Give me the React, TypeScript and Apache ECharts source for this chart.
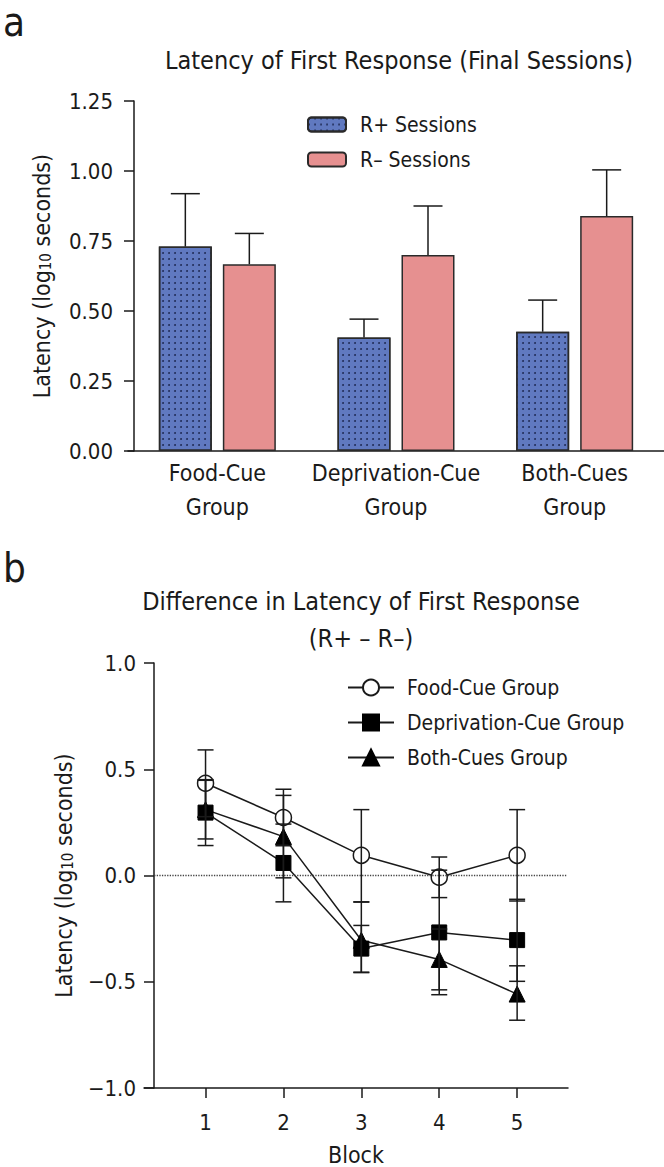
import React, { useEffect, useRef } from 'react';
import * as echarts from 'echarts';

const FONT = "'Liberation Sans Narrow', 'DejaVu Sans Condensed', 'Arial Narrow', sans-serif";
const INK = '#1a1a1a';

// ---- Panel a data ----
const groups = ['Food-Cue\nGroup', 'Deprivation-Cue\nGroup', 'Both-Cues\nGroup'];
const rPlusSessions = [0.730, 0.405, 0.426];
const rPlusErrTop = [0.919, 0.471, 0.539];
const rMinusSessions = [0.667, 0.700, 0.839];
const rMinusErrTop = [0.777, 0.875, 1.004];

// ---- Panel b data ----
const blocks = [1, 2, 3, 4, 5];
const foodCue = [0.434, 0.273, 0.095, -0.008, 0.095];
const foodLow = [0.277, 0.140, -0.124, -0.104, -0.120];
const foodHigh = [0.591, 0.406, 0.310, 0.087, 0.310];
const depCue = [0.296, 0.059, -0.344, -0.268, -0.304];
const depLow = [0.141, -0.124, -0.457, -0.561, -0.498];
const depHigh = [0.451, 0.242, -0.235, 0.025, -0.112];
const bothCues = [0.310, 0.183, -0.305, -0.395, -0.558];
const bothLow = [0.172, -0.011, -0.455, -0.538, -0.681];
const bothHigh = [0.448, 0.377, -0.125, -0.252, -0.425];

const BAR_W = 53;
const BAR_GAP = 11;
const CAP_A = 29;
const CAP_B = 16;

const fmtSigned = (v: number) => (v < 0 ? '\u2212' + Math.abs(v).toFixed(1) : v.toFixed(1));

export default function App() {
  const ref = useRef<HTMLDivElement>(null);
  useEffect(() => {
    const chart = echarts.init(ref.current!, null, { renderer: 'svg' });
    const offset = (BAR_W + BAR_GAP) / 2;

    const barErr = (vals: number[], tops: number[], side: number) =>
      vals.map((v, i) => [i, v, tops[i], side]);

    const errSeries = (name: string, low: number[], high: number[]) => ({
      type: 'custom',
      name,
      xAxisIndex: 1,
      yAxisIndex: 1,
      z: 5,
      silent: true,
      encode: { x: 0, y: [1, 2] },
      data: blocks.map((b, i) => [b, low[i], high[i]]),
      renderItem: (_p: any, api: any) => {
        const lo = api.coord([api.value(0), api.value(1)]);
        const hi = api.coord([api.value(0), api.value(2)]);
        const st = { stroke: INK, lineWidth: 1.5 };
        return {
          type: 'group',
          children: [
            { type: 'line', shape: { x1: lo[0], y1: lo[1], x2: hi[0], y2: hi[1] }, style: st },
            { type: 'line', shape: { x1: lo[0] - CAP_B / 2, y1: lo[1], x2: lo[0] + CAP_B / 2, y2: lo[1] }, style: st },
            { type: 'line', shape: { x1: hi[0] - CAP_B / 2, y1: hi[1], x2: hi[0] + CAP_B / 2, y2: hi[1] }, style: st },
          ],
        };
      },
    });

    const axisLine = { show: true, onZero: false, lineStyle: { color: INK, width: 1.5 } };
    const tickLbl = { fontFamily: FONT, fontSize: 22, color: INK };
    const nameStyle = {
      fontFamily: FONT,
      fontSize: 23,
      color: INK,
      rich: { sub: { fontFamily: FONT, fontSize: 15, color: INK, verticalAlign: 'bottom', padding: [8, 0, 0, 0] } },
    };

    const option: any = {
      animation: false,
      textStyle: { fontFamily: FONT, color: INK },
      graphic: [
        { type: 'text', x: 3, y: 2, style: { text: 'a', font: `40px ${FONT}`, fill: INK, verticalAlign: 'top' } },
        { type: 'text', x: 3, y: 548, style: { text: 'b', font: `40px ${FONT}`, fill: INK, verticalAlign: 'top' } },
        { type: 'text', x: 399, y: 60, style: { text: 'Latency of First Response (Final Sessions)', font: `25px ${FONT}`, fill: INK, align: 'center', verticalAlign: 'middle' } },
        { type: 'text', x: 361, y: 601, style: { text: 'Difference in Latency of First Response', font: `25px ${FONT}`, fill: INK, align: 'center', verticalAlign: 'middle' } },
        { type: 'text', x: 361, y: 638, style: { text: '(R+ \u2013 R\u2013)', font: `25px ${FONT}`, fill: INK, align: 'center', verticalAlign: 'middle' } },
      ],
      legend: [
        {
          data: ['R+ Sessions', 'R\u2013 Sessions'],
          orient: 'vertical',
          left: 307,
          top: 114,
          padding: 0,
          itemWidth: 38,
          itemHeight: 14,
          itemGap: 14,
          selectedMode: false,
          textStyle: { fontFamily: FONT, fontSize: 21, color: INK, lineHeight: 20, padding: [0, 0, 0, 9] },
        },
        {
          data: ['Food-Cue Group', 'Deprivation-Cue Group', 'Both-Cues Group'],
          orient: 'vertical',
          left: 347,
          top: 677,
          padding: 0,
          itemWidth: 46,
          itemHeight: 20,
          itemGap: 14,
          selectedMode: false,
          textStyle: { fontFamily: FONT, fontSize: 21, color: INK, lineHeight: 20, padding: [0, 0, 0, 8] },
        },
      ],
      grid: [
        { left: 128, top: 101, width: 541, height: 350 },
        { left: 144, top: 663, width: 424, height: 430 },
      ],
      xAxis: [
        {
          type: 'category',
          gridIndex: 0,
          data: groups,
          axisLine,
          axisTick: { show: false },
          axisLabel: { ...tickLbl, fontSize: 23, lineHeight: 34, margin: 5, interval: 0 },
        },
        {
          type: 'value',
          gridIndex: 1,
          min: 0.21,
          max: 5.653,
          name: 'Block',
          nameLocation: 'middle',
          nameGap: 55,
          nameTextStyle: { fontFamily: FONT, fontSize: 23, color: INK },
          axisLine,
          axisTick: { show: true, length: 10, lineStyle: { color: INK, width: 1.5 }, customValues: blocks },
          axisLabel: { ...tickLbl, margin: 23, customValues: blocks },
          splitLine: { show: false },
        },
      ],
      yAxis: [
        {
          type: 'value',
          gridIndex: 0,
          min: 0,
          max: 1.25,
          interval: 0.25,
          offset: -6,
          name: 'Latency (log{sub|10} seconds)',
          nameLocation: 'middle',
          nameRotate: 90,
          nameGap: 81,
          nameTextStyle: nameStyle,
          axisLine,
          axisTick: { show: true, length: 10, lineStyle: { color: INK, width: 1.5 } },
          axisLabel: { ...tickLbl, margin: 21, formatter: (v: number) => v.toFixed(2) },
          splitLine: { show: false },
        },
        {
          type: 'value',
          gridIndex: 1,
          min: -1,
          max: 1,
          interval: 0.5,
          offset: -10,
          name: 'Latency (log{sub|10} seconds)',
          nameLocation: 'middle',
          nameRotate: 90,
          nameGap: 79,
          nameTextStyle: nameStyle,
          axisLine,
          axisTick: { show: true, length: 10, lineStyle: { color: INK, width: 1.5 } },
          axisLabel: { ...tickLbl, margin: 18, formatter: fmtSigned },
          splitLine: { show: false },
        },
      ],
      series: [
        {
          name: 'R+ Sessions',
          type: 'bar',
          xAxisIndex: 0,
          yAxisIndex: 0,
          barWidth: BAR_W,
          barGap: `${(BAR_GAP / BAR_W) * 100}%`,
          data: rPlusSessions,
          itemStyle: {
            color: '#6079c0',
            borderColor: '#2a2a2a',
            borderWidth: 1.5,
            decal: { symbol: 'circle', symbolSize: 0.9, color: '#1d2852', dashArrayX: [1.6, 3.4], dashArrayY: [1.6, 3.4], rotation: 0 },
          },
        },
        {
          name: 'R\u2013 Sessions',
          type: 'bar',
          xAxisIndex: 0,
          yAxisIndex: 0,
          barWidth: BAR_W,
          data: rMinusSessions,
          itemStyle: { color: '#e69090', borderColor: '#2a2a2a', borderWidth: 1.5 },
        },
        {
          type: 'custom',
          xAxisIndex: 0,
          yAxisIndex: 0,
          z: 5,
          silent: true,
          encode: { x: 0, y: [1, 2] },
          data: barErr(rPlusSessions, rPlusErrTop, -1).concat(barErr(rMinusSessions, rMinusErrTop, 1)),
          renderItem: (_p: any, api: any) => {
            const side = api.value(3);
            const base = api.coord([api.value(0), api.value(1)]);
            const top = api.coord([api.value(0), api.value(2)]);
            const x = base[0] + side * offset;
            const st = { stroke: INK, lineWidth: 1.5 };
            return {
              type: 'group',
              children: [
                { type: 'line', shape: { x1: x, y1: base[1], x2: x, y2: top[1] }, style: st },
                { type: 'line', shape: { x1: x - CAP_A / 2, y1: top[1], x2: x + CAP_A / 2, y2: top[1] }, style: st },
              ],
            };
          },
        },
        {
          name: 'Food-Cue Group',
          type: 'line',
          xAxisIndex: 1,
          yAxisIndex: 1,
          data: blocks.map((b, i) => [b, foodCue[i]]),
          symbol: 'circle',
          symbolSize: 16,
          z: 3,
          lineStyle: { color: INK, width: 1.5 },
          itemStyle: { color: '#ffffff', borderColor: INK, borderWidth: 1.5 },
          markLine: {
            silent: true,
            symbol: 'none',
            label: { show: false },
            lineStyle: { color: '#444', type: 'dotted', width: 1.3 },
            data: [[{ coord: [0.34, 0] }, { coord: [5.64, 0] }]],
          },
        },
        {
          name: 'Deprivation-Cue Group',
          type: 'line',
          xAxisIndex: 1,
          yAxisIndex: 1,
          data: blocks.map((b, i) => [b, depCue[i]]),
          symbol: 'rect',
          symbolSize: 15,
          z: 3,
          lineStyle: { color: INK, width: 1.5 },
          itemStyle: { color: '#000000', borderColor: '#000000', borderWidth: 1 },
        },
        {
          name: 'Both-Cues Group',
          type: 'line',
          xAxisIndex: 1,
          yAxisIndex: 1,
          data: blocks.map((b, i) => [b, bothCues[i]]),
          symbol: 'triangle',
          symbolSize: 16,
          z: 3,
          lineStyle: { color: INK, width: 1.5 },
          itemStyle: { color: '#000000', borderColor: '#000000', borderWidth: 1 },
        },
        errSeries('foodErr', foodLow, foodHigh),
        errSeries('depErr', depLow, depHigh),
        errSeries('bothErr', bothLow, bothHigh),
      ],
    };
    chart.setOption(option);
    return () => chart.dispose();
  }, []);
  return <div ref={ref} style={{ position: 'absolute', left: 0, top: 0, width: 664, height: 1167, background: '#fff' }} />;
}
